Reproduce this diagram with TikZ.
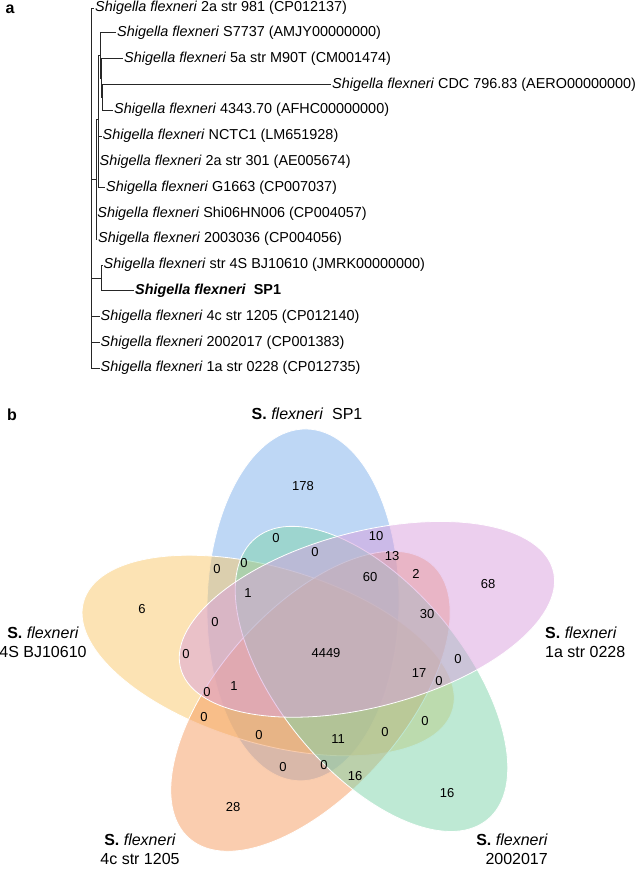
\documentclass[tikz,border=0pt]{standalone}
\usepackage{fontspec}
\setmainfont{Liberation Sans}

\definecolor{sponeblue}{RGB}{125,175,235}
\definecolor{bjyellow}{RGB}{249,199,105}
\definecolor{strorange}{RGB}{245,155,95}
\definecolor{onepink}{RGB}{217,159,221}
\definecolor{twogreen}{RGB}{125,211,169}

\newcommand{\shfl}{\textit{Shigella flexneri}}
\newcommand{\sfshort}{\textbf{S.} \textit{flexneri}}

\tikzset{
  leaf/.style={anchor=west, inner sep=1pt, font=\fontsize{14.4}{16}\selectfont},
  branch/.style={line width=0.7pt, black!85},
  venn/.style={fill opacity=0.5, draw=white, line width=0.8pt},
  count/.style={inner sep=0pt, font=\fontsize{13}{15}\selectfont},
  setlabel/.style={inner sep=0pt, font=\fontsize{16}{19}\selectfont},
  panel/.style={inner sep=0pt, font=\fontsize{16}{19}\selectfont\bfseries},
}

\begin{document}
\begin{tikzpicture}[x=1pt, y=1pt]
  \useasboundingbox (0,0) rectangle (638,869);

  % panel a: tree
  \node[panel] (panela) at (10,860) {a};

  \node[leaf] (sf981) at (94,861) {\shfl{} 2a str 981 (CP012137)};
  \node[leaf] (sf7737) at (116,836.2) {\shfl{} S7737 (AMJY00000000)};
  \node[leaf] (sfm90t) at (123,810.4) {\shfl{} 5a str M90T (CM001474)};
  \node[leaf] (sfcdc) at (331,784.6) {\shfl{} CDC 796.83 (AERO00000000)};
  \node[leaf] (sf4343) at (113,758.8) {\shfl{} 4343.70 (AFHC00000000)};
  \node[leaf] (sfnctc) at (101.5,733) {\shfl{} NCTC1 (LM651928)};
  \node[leaf] (sf301) at (98.5,707.2) {\shfl{} 2a str 301 (AE005674)};
  \node[leaf] (sfg1663) at (105,681.4) {\shfl{} G1663 (CP007037)};
  \node[leaf] (sfshi06) at (96.2,655.6) {\shfl{} Shi06HN006 (CP004057)};
  \node[leaf] (sf2003) at (97,629.8) {\shfl{} 2003036 (CP004056)};
  \node[leaf] (sfbj) at (102.5,604) {\shfl{} str 4S BJ10610 (JMRK00000000)};
  \node[leaf] (sfsp1) at (134,578.2) {\textbf{\shfl{}\ \ SP1}};
  \node[leaf] (sf1205) at (99.5,552.4) {\shfl{} 4c str 1205 (CP012140)};
  \node[leaf] (sf2002) at (99.5,526.6) {\shfl{} 2002017 (CP001383)};
  \node[leaf] (sf0228) at (99.5,500.8) {\shfl{} 1a str 0228 (CP012735)};

  \coordinate (root) at (91.7,681);
  \coordinate (cladeB) at (96,690);
  \coordinate (cladeB1) at (98.3,750);
  \coordinate (cladeA) at (100,814);
  \coordinate (cladeM) at (101,791);
  \coordinate (cladeC) at (102,771.7);
  \coordinate (cladeSP) at (101.7,591.1);

  \draw[branch] (root) |- (sf981.west);
  \draw[branch] (root) |- (cladeB);
  \draw[branch] (root) |- (cladeSP);
  \draw[branch] (root) |- (sf1205.west);
  \draw[branch] (root) |- (sf2002.west);
  \draw[branch] (root) |- (sf0228.west);
  \draw[branch] (cladeB) |- (cladeB1);
  \draw[branch] (cladeB) |- (sfshi06.west);
  \draw[branch] (cladeB) |- (sf2003.west);
  \draw[branch] (cladeB1) |- (cladeA);
  \draw[branch] (cladeB1) |- (sfnctc.west);
  \draw[branch] (cladeB1) |- (sf301.west);
  \draw[branch] (cladeB1) |- (sfg1663.west);
  \draw[branch] (cladeA) |- (sf7737.west);
  \draw[branch] (cladeA) |- (cladeM);
  \draw[branch] (cladeM) |- (sfm90t.west);
  \draw[branch] (cladeM) |- (cladeC);
  \draw[branch] (cladeC) |- (sfcdc.west);
  \draw[branch] (cladeC) |- (sf4343.west);
  \draw[branch] (cladeSP) |- (sfbj.west);
  \draw[branch] (cladeSP) |- (sfsp1.west);

  % panel b: venn
  \node[panel] (panelb) at (12,454) {b};

  \begin{scope}[shift={(324,217)}, yscale=0.907]
    \path[venn, fill=sponeblue, rotate around={89:(112:56)}] (112:56) ellipse [x radius=194, y radius=96];
    \path[venn, fill=bjyellow, rotate around={161:(184:56)}] (184:56) ellipse [x radius=194, y radius=96];
    \path[venn, fill=strorange, rotate around={233:(256:56)}] (256:56) ellipse [x radius=194, y radius=96];
    \path[venn, fill=twogreen, rotate around={305:(328:56)}] (328:56) ellipse [x radius=194, y radius=96];
    \path[venn, fill=onepink, rotate around={17:(40:56)}] (40:56) ellipse [x radius=194, y radius=96];
  \end{scope}

  \node[setlabel] (lblsp1) at (307,455) {\sfshort\ \ SP1};
  \node[setlabel, align=center] (lblbj) at (43,226.5) {\sfshort\\4S BJ10610};
  \node[setlabel, align=left, anchor=west] (lbl0228) at (545,226.5) {\sfshort\\1a str 0228};
  \node[setlabel, align=center] (lbl1205) at (140,19.5) {\sfshort\\4c str 1205};
  \node[setlabel, align=right, anchor=east] (lbl2002) at (548,19.5) {\sfshort\\2002017};

  \node[count] (c178) at (303,383) {178};
  \node[count] (z1) at (276,331) {0};
  \node[count] (z2) at (315,317) {0};
  \node[count] (z3) at (217,300) {0};
  \node[count] (z4) at (244,306) {0};
  \node[count] (c1a) at (248,276) {1};
  \node[count] (c6) at (142,260) {6};
  \node[count] (z5) at (215,247) {0};
  \node[count] (z6) at (186,215) {0};
  \node[count] (c4449) at (326,216) {4449};
  \node[count] (z7) at (207,177) {0};
  \node[count] (c1b) at (234,183) {1};
  \node[count] (z8) at (204,152) {0};
  \node[count] (z9) at (259,134) {0};
  \node[count] (z10) at (283,102) {0};
  \node[count] (c28) at (233,62) {28};
  \node[count] (c10) at (376,333) {10};
  \node[count] (c13) at (392,313) {13};
  \node[count] (c60) at (370,292) {60};
  \node[count] (c2) at (416,295) {2};
  \node[count] (c68) at (488,285) {68};
  \node[count] (c30) at (427,255) {30};
  \node[count] (z11) at (458,210) {0};
  \node[count] (c17) at (419,196) {17};
  \node[count] (z12) at (439,188) {0};
  \node[count] (z13) at (425,148) {0};
  \node[count] (z14) at (385,137) {0};
  \node[count] (c11) at (338,130) {11};
  \node[count] (z15) at (324,104) {0};
  \node[count] (c16a) at (355,93) {16};
  \node[count] (c16b) at (447,76) {16};
\end{tikzpicture}
\end{document}
